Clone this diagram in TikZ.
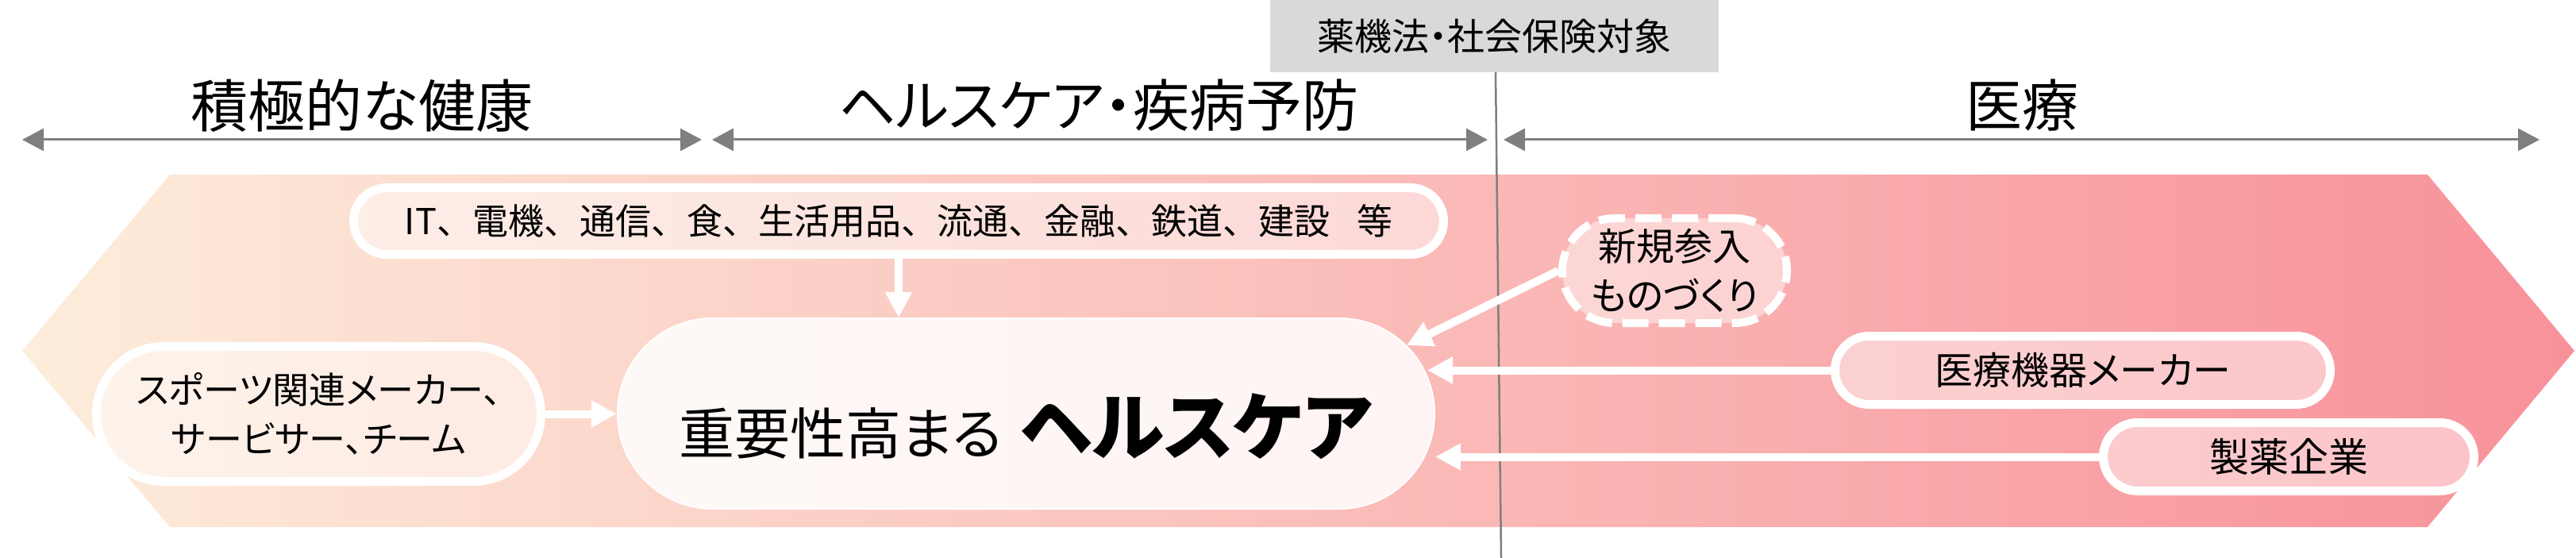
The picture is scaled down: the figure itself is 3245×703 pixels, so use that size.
\documentclass[tikz,border=0pt]{standalone}
\usepackage{fontspec}
\setmainfont{Noto Sans CJK JP}[RawFeature=+palt]
\usetikzlibrary{arrows.meta,calc}
\definecolor{bandL}{HTML}{FDEDDB}
\definecolor{bandR}{HTML}{F8919A}
\definecolor{axisgray}{HTML}{7F7F7F}
\definecolor{boxgray}{HTML}{D9D9D9}
\begin{document}
\begin{tikzpicture}[x=1pt,y=-1pt,
  title/.style={inner sep=0pt,font=\fontsize{71}{85}\selectfont},
  axisarrow/.style={draw=axisgray,line width=3pt,
     {Triangle[length=27pt,width=28pt]}-{Triangle[length=27pt,width=28pt]}},
  pill/.style={draw=white,line width=11pt,fill=white,fill opacity=0.45,
     text opacity=1,inner sep=0pt,align=center},
  warrow/.style={draw=white,line width=10pt,-{Triangle[length=32pt,width=32pt]}}
]
\useasboundingbox (0,0) rectangle (3245,703);
% band
\shade[left color=bandL,right color=bandR]
  (28,442) -- (214,220) -- (3058,220) -- (3243,442) -- (3058,664) -- (214,664) -- cycle;
% gray box
\node[fill=boxgray,minimum width=565pt,minimum height=91pt,inner sep=0pt,
  font=\fontsize{47}{56}\selectfont] (law) at (1882.5,45.5) {薬機法・社会保険対象};
% vertical divider
\coordinate (vt) at (1884,91);
\coordinate (vb) at (1891,703);
\draw[axisgray,line width=2.5pt] (vt) -- (vb);
% axis arrows
\coordinate (a1l) at (28,176);   \coordinate (a1r) at (884,176);
\coordinate (a2l) at (897,176);  \coordinate (a2r) at (1874,176);
\coordinate (a3l) at (1894,176); \coordinate (a3r) at (3199,176);
\draw[axisarrow] (a1l) -- (a1r);
\draw[axisarrow] (a2l) -- (a2r);
\draw[axisarrow] (a3l) -- (a3r);
% titles
\node[title,font=\fontsize{72}{86}\selectfont] (t1) at (456,133) {積極的な健康};
\node[title] (t2) at (1384,133) {ヘルスケア・疾病予防};
\node[title] (t3) at (2547,133) {医療};
% pills
\node[pill,minimum width=1373pt,minimum height=84pt,rounded corners=42pt,
  font=\fontsize{45}{55}\selectfont\addfontfeature{RawFeature=-palt}] (it) at (1132,278.5)
  {IT、電機、通信、食、生活用品、流通、金融、鉄道、建設\hspace{34pt}等};
\node[pill,minimum width=560pt,minimum height=170pt,rounded corners=85pt,
  font=\fontsize{46}{62}\selectfont] (sp) at (401.5,521.5)
  {スポーツ関連メーカー、\\サービサー、チーム};
\node[draw=white,line width=2pt,fill=white,fill opacity=0.85,text opacity=1,
  rounded corners=120pt,minimum width=1029pt,minimum height=240pt,inner sep=0pt]
  (hc) at (1292.5,521) {};
\node[anchor=base,inner sep=0pt] (hctext) at (1292,572)
  {\fontsize{70}{84}\selectfont 重要性高まる\hspace{22pt}{\fontsize{93}{104}\selectfont\bfseries ヘルスケア}};
\node[pill,line width=10pt,dash pattern=on 33pt off 13pt,minimum width=283pt,
  minimum height=132pt,rounded corners=66pt,font=\fontsize{48}{62}\selectfont]
  (np) at (2109.5,341) {新規参入\\ものづくり};
\node[pill,minimum width=624pt,minimum height=86pt,rounded corners=43pt,
  font=\fontsize{48}{58}\selectfont] (md) at (2623.5,466.5) {医療機器メーカー};
\node[pill,minimum width=467pt,minimum height=86pt,rounded corners=43pt,
  font=\fontsize{50}{60}\selectfont] (ph) at (2883,575.5) {製薬企業};
% connectors
\draw[warrow] (it.south) -- (it.south |- hc.north);
\draw[warrow] (sp.east) -- (sp.east -| hc.west);
\draw[warrow] (np.west) -- ($(hc.east)+(-36,-86)$);
\draw[warrow] (md.west) -- ($(md.west -| hc.east)+(-10,0)$);
\draw[warrow] (ph.west) -- ($(ph.west -| hc.east)+(0,0)$);
\end{tikzpicture}
\end{document}
